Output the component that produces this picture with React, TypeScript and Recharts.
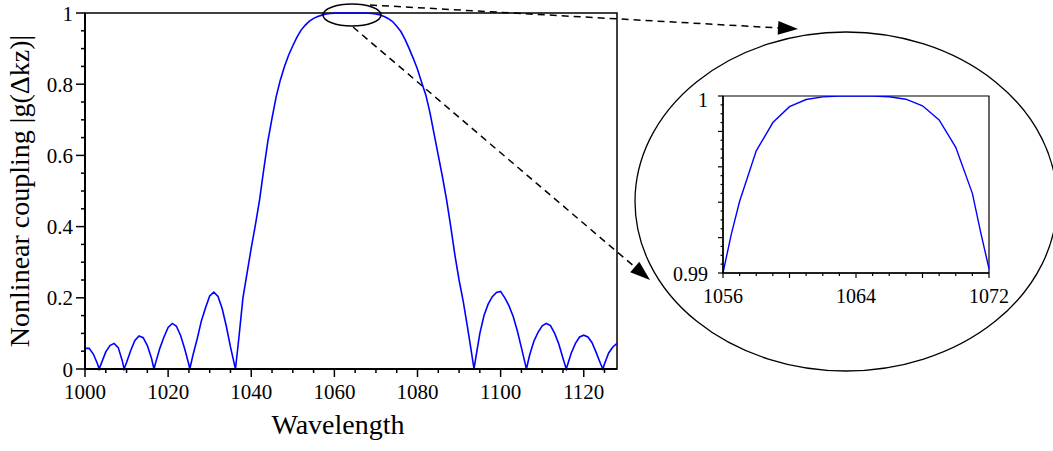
import { LineChart, Line, XAxis, YAxis, ReferenceArea } from "recharts";

// main curve (wavelength in nm)
const WAVELENGTH = [
  1000, 1001, 1002, 1003, 1003.4, 1004, 1005, 1006, 1007, 1008, 1009, 1009.4,
  1010, 1011, 1012, 1013, 1014, 1015, 1016, 1016.6, 1017, 1018, 1019, 1020,
  1021, 1022, 1023, 1024, 1025, 1025.2, 1026, 1027, 1028, 1029, 1030, 1031,
  1032, 1033, 1034, 1035, 1036, 1036.2, 1037, 1038, 1039, 1040, 1041, 1042,
  1043, 1044, 1045, 1046, 1047, 1048, 1049, 1050, 1051, 1052, 1053, 1054,
  1055, 1056, 1057, 1058, 1059, 1060, 1061, 1062, 1063, 1064, 1065, 1066,
  1067, 1068, 1069, 1070, 1071, 1072, 1073, 1074, 1075, 1076, 1077, 1078,
  1079, 1080, 1081, 1082, 1083, 1084, 1085, 1086, 1087, 1088, 1089, 1090,
  1091, 1092, 1093, 1093.6, 1094, 1095, 1096, 1097, 1098, 1099, 1100, 1101,
  1102, 1103, 1104, 1105, 1106, 1106.2, 1107, 1108, 1109, 1110, 1111, 1112,
  1113, 1114, 1115, 1115.8, 1116, 1117, 1118, 1119, 1120, 1121, 1122, 1123,
  1124, 1124.6, 1125, 1126, 1127, 1128,
];
const COUPLING = [
  0.058, 0.058, 0.042, 0.015, 0, 0.018, 0.048, 0.066, 0.072, 0.06, 0.022, 0,
  0.018, 0.052, 0.08, 0.093, 0.088, 0.066, 0.03, 0, 0.018, 0.058, 0.09, 0.117,
  0.128, 0.12, 0.094, 0.056, 0.012, 0, 0.04, 0.085, 0.135, 0.172, 0.205, 0.216,
  0.204, 0.17, 0.12, 0.062, 0.01, 0, 0.085, 0.2, 0.27, 0.34, 0.405, 0.475,
  0.56, 0.64, 0.705, 0.765, 0.812, 0.85, 0.882, 0.908, 0.932, 0.952, 0.966, 0.977,
  0.985, 0.99, 0.994, 0.997, 0.9985, 0.9994, 0.9998, 0.9999, 1, 1, 1, 1,
  0.9998, 0.9994, 0.9987, 0.9971, 0.9944, 0.9902, 0.984, 0.976, 0.963, 0.948, 0.926, 0.9,
  0.872, 0.842, 0.805, 0.77, 0.72, 0.66, 0.6, 0.54, 0.475, 0.4, 0.32, 0.25,
  0.19, 0.12, 0.045, 0, 0.03, 0.1, 0.15, 0.182, 0.203, 0.215, 0.218, 0.2,
  0.178, 0.148, 0.108, 0.06, 0.01, 0, 0.04, 0.078, 0.103, 0.121, 0.128, 0.122,
  0.1, 0.07, 0.03, 0, 0.008, 0.045, 0.072, 0.09, 0.095, 0.09, 0.074, 0.046,
  0.016, 0, 0.015, 0.045, 0.062, 0.072,
];

const MAIN_X_TICKS = [
  1000, 1005, 1010, 1015, 1020, 1025, 1030, 1035, 1040, 1045, 1050, 1055, 1060,
  1065, 1070, 1075, 1080, 1085, 1090, 1095, 1100, 1105, 1110, 1115, 1120, 1125,
];
const MAIN_X_LABELS = [1000, 1020, 1040, 1060, 1080, 1100, 1120];
const MAIN_Y_TICKS = [
  0, 0.05, 0.1, 0.15, 0.2, 0.25, 0.3, 0.35, 0.4, 0.45, 0.5, 0.55, 0.6, 0.65,
  0.7, 0.75, 0.8, 0.85, 0.9, 0.95, 1,
];
const MAIN_Y_LABELS = [0, 0.2, 0.4, 0.6, 0.8, 1];

// zoomed top of the curve
const INSET_WAVELENGTH = [
  1056, 1056.5, 1057, 1058, 1059, 1060, 1061, 1062, 1063, 1064, 1065, 1066,
  1067, 1068, 1069, 1070, 1071, 1071.5, 1072,
];
const INSET_COUPLING = [
  0.99, 0.9922, 0.99405, 0.9969, 0.9985, 0.9994, 0.9998, 0.99995, 1, 1, 1, 0.99996,
  0.99982, 0.99945, 0.99865, 0.9971, 0.9945, 0.9923, 0.99024,
];
const INSET_X_TICKS = [
  1056, 1057, 1058, 1059, 1060, 1061, 1062, 1063, 1064, 1065, 1066, 1067, 1068,
  1069, 1070, 1071, 1072,
];
const INSET_X_LABELS = [1056, 1064, 1072];
const INSET_Y_TICKS = [
  0.99, 0.9905, 0.991, 0.9915, 0.992, 0.9925, 0.993, 0.9935, 0.994, 0.9945,
  0.995, 0.9955, 0.996, 0.9965, 0.997, 0.9975, 0.998, 0.9985, 0.999, 0.9995, 1,
];
const INSET_Y_LABELS = [0.99, 1];

const mainData = WAVELENGTH.map((w, i) => ({ w, g: COUPLING[i] }));
const insetData = INSET_WAVELENGTH.map((w, i) => ({ w, g: INSET_COUPLING[i] }));

const FONT = "'Liberation Serif', 'Times New Roman', serif";
const textStyle = { fontFamily: FONT };
const near = (list: number[], v: number) => list.some((t) => Math.abs(t - v) < 1e-7);

function MainXTick({ x, y, payload }: any) {
  const v = payload.value;
  const major = near(MAIN_X_LABELS, v);
  return (
    <g>
      <line x1={x} y1={y} x2={x} y2={y + (major ? 8 : 4)} stroke="#000" strokeWidth={1.5} />
      {major && (
        <text x={x} y={y + 30} textAnchor="middle" fontSize={21} style={textStyle} fill="#000">
          {v}
        </text>
      )}
    </g>
  );
}

function MainYTick({ x, y, payload }: any) {
  const v = payload.value;
  const major = near(MAIN_Y_LABELS, v);
  return (
    <g>
      <line x1={x} y1={y} x2={x - (major ? 9 : 4)} y2={y} stroke="#000" strokeWidth={1.5} />
      {major && (
        <text x={x - 12} y={y + 7.5} textAnchor="end" fontSize={21} style={textStyle} fill="#000">
          {String(Math.round(v * 10) / 10)}
        </text>
      )}
    </g>
  );
}

function InsetXTick({ x, y, payload }: any) {
  const v = payload.value;
  const label = near(INSET_X_LABELS, v);
  const long = (v - 1056) % 4 === 0;
  return (
    <g>
      <line x1={x} y1={y} x2={x} y2={y + (long ? 5 : 3)} stroke="#000" strokeWidth={1.2} />
      {label && (
        <text x={x} y={y + 30} textAnchor="middle" fontSize={20} style={textStyle} fill="#000">
          {v}
        </text>
      )}
    </g>
  );
}

function InsetYTick({ x, y, payload }: any) {
  const v = payload.value;
  const label = near(INSET_Y_LABELS, v);
  const k = Math.round((v - 0.99) / 0.0005);
  const long = k % 4 === 0;
  return (
    <g>
      <line x1={x} y1={y} x2={x - (long ? 5 : 2.5)} y2={y} stroke="#000" strokeWidth={1.2} />
      {label && (
        <text
          x={x - 15}
          y={y + (v === 1 ? 11 : 8)}
          textAnchor="end"
          fontSize={20}
          style={textStyle}
          fill="#000"
        >
          {v === 1 ? "1" : "0.99"}
        </text>
      )}
    </g>
  );
}

function arrowHead(tipX: number, tipY: number, fromX: number, fromY: number) {
  const dx = tipX - fromX;
  const dy = tipY - fromY;
  const len = Math.hypot(dx, dy);
  const ux = dx / len;
  const uy = dy / len;
  const bx = tipX - ux * 20;
  const by = tipY - uy * 20;
  return `${tipX},${tipY} ${bx - uy * 7},${by + ux * 7} ${bx + uy * 7},${by - ux * 7}`;
}

export default function App() {
  return (
    <div style={{ position: "absolute", left: 0, top: 0, width: 1053, height: 451, background: "#fff", fontFamily: FONT }}>
      <div style={{ position: "absolute", left: 0, top: 0 }}>
        <LineChart width={640} height={451} data={mainData} margin={{ top: 13, right: 23, bottom: 0, left: 0 }}>
          <XAxis
            dataKey="w"
            type="number"
            domain={[1000, 1128]}
            ticks={MAIN_X_TICKS}
            interval={0}
            tickSize={0}
            tickMargin={0}
            tickLine={false}
            tick={(p: any) => <MainXTick {...p} />}
            height={82}
            axisLine={{ stroke: "#000", strokeWidth: 2 }}
          />
          <YAxis
            type="number"
            domain={[0, 1]}
            ticks={MAIN_Y_TICKS}
            interval={0}
            tickSize={0}
            tickMargin={0}
            tickLine={false}
            tick={(p: any) => <MainYTick {...p} />}
            width={85}
            axisLine={{ stroke: "#000", strokeWidth: 2 }}
          />
          <ReferenceArea x1={1000} x2={1128} y1={0} y2={1} fill="none" fillOpacity={0} stroke="#000" strokeWidth={1.5} />
          <Line
            dataKey="g"
            type="linear"
            stroke="#0000ff"
            strokeWidth={1.6}
            dot={false}
            isAnimationActive={false}
          />
        </LineChart>
      </div>

      <div style={{ position: "absolute", left: 640, top: 60 }}>
        <LineChart width={370} height={260} data={insetData} margin={{ top: 36, right: 21, bottom: 0, left: 0 }}>
          <XAxis
            dataKey="w"
            type="number"
            domain={[1056, 1072]}
            ticks={INSET_X_TICKS}
            interval={0}
            tickSize={0}
            tickMargin={0}
            tickLine={false}
            tick={(p: any) => <InsetXTick {...p} />}
            height={47}
            axisLine={{ stroke: "#000", strokeWidth: 1.5 }}
          />
          <YAxis
            type="number"
            domain={[0.99, 1]}
            allowDataOverflow
            ticks={INSET_Y_TICKS}
            interval={0}
            tickSize={0}
            tickMargin={0}
            tickLine={false}
            tick={(p: any) => <InsetYTick {...p} />}
            width={83}
            axisLine={{ stroke: "#000", strokeWidth: 1.5 }}
          />
          <ReferenceArea x1={1056} x2={1072} y1={0.99} y2={1} fill="none" fillOpacity={0} stroke="#000" strokeWidth={1.2} />
          <Line
            dataKey="g"
            type="linear"
            stroke="#0000ff"
            strokeWidth={1.4}
            dot={false}
            isAnimationActive={false}
          />
        </LineChart>
      </div>

      <svg
        width={1053}
        height={451}
        style={{ position: "absolute", left: 0, top: 0, pointerEvents: "none" }}
      >
        <text x={338} y={434} textAnchor="middle" fontSize={28} style={textStyle} fill="#000">
          Wavelength
        </text>
        <text
          x={0}
          y={0}
          transform="translate(29 191) rotate(-90)"
          textAnchor="middle"
          fontSize={28}
          style={textStyle}
          fill="#000"
        >
          Nonlinear coupling |g(Δkz)|
        </text>
        <ellipse cx={352} cy={15} rx={29} ry={11} fill="none" stroke="#000" strokeWidth={1.5} />
        <ellipse cx={846} cy={201.5} rx={211} ry={169.5} fill="none" stroke="#000" strokeWidth={1.3} />
        <line x1={370} y1={5} x2={780} y2={28} stroke="#000" strokeWidth={1.5} strokeDasharray="7 5" />
        <polygon points={arrowHead(798, 29, 370, 5)} fill="#000" />
        <line x1={353} y1={27} x2={636} y2={268} stroke="#000" strokeWidth={1.5} strokeDasharray="7 5" />
        <polygon points={arrowHead(650, 280, 353, 27)} fill="#000" />
      </svg>
    </div>
  );
}
